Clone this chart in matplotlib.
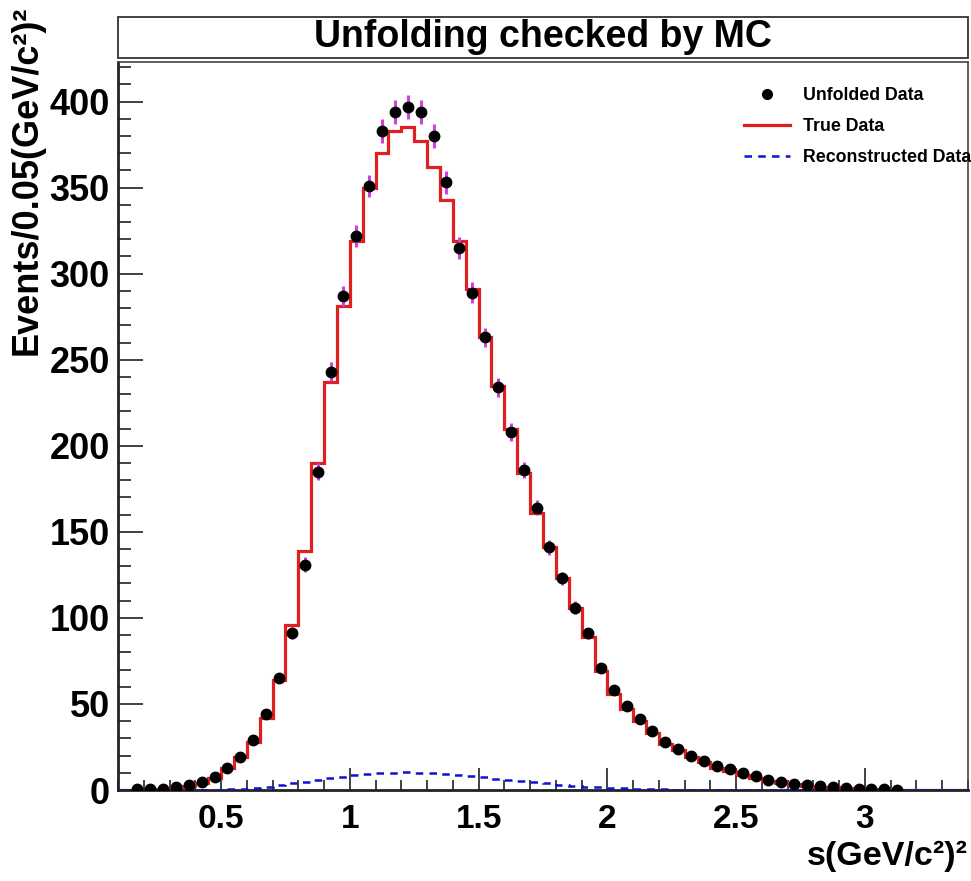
#!/usr/bin/env python3

import matplotlib

matplotlib.use("Agg")
import matplotlib.pyplot as plt
from matplotlib.lines import Line2D
from matplotlib.patches import Rectangle
from matplotlib.ticker import MultipleLocator
import numpy as np

plt.rcParams["font.family"] = ["Liberation Sans", "DejaVu Sans"]
plt.rcParams["font.weight"] = "bold"

# histogram binning: 66 bins of 0.05 from 0.1 to 3.4
BIN_LOW = 0.1
BIN_WIDTH = 0.05
N_BINS = 66

true_counts = [
    0, 0.1, 0.2, 0.5, 1, 2.3, 4, 7, 13, 19,
    28, 42, 64, 96, 139, 190, 237, 281, 319, 350,
    370, 383, 385, 377, 362, 343, 319, 291, 263, 235,
    210, 184, 161, 141, 123, 106, 89, 69, 56, 47,
    40, 33, 27, 23, 19, 16, 13, 11, 9, 7,
    5.5, 4.3, 3.3, 2.5, 2, 1.5, 1, 0.7, 0.5, 0.3,
    0.2, 0, 0, 0, 0, 0,
]

reco_counts = [
    0, 0, 0, 0, 0, 0, 0.1, 0.2, 0.4, 0.8,
    1.3, 1.8, 2.7, 3.8, 4.8, 5.9, 6.9, 7.8, 8.6, 9.2,
    9.7, 10.0, 10.2, 10.1, 9.8, 9.3, 8.7, 8.0, 7.3, 6.6,
    5.9, 5.2, 4.5, 3.8, 3.1, 2.5, 2.0, 1.6, 1.2, 0.9,
    0.7, 0.5, 0.35, 0.25, 0.15, 0.1, 0, 0, 0, 0,
    0, 0, 0, 0, 0, 0, 0, 0, 0, 0,
    0, 0, 0, 0, 0, 0,
]

# unfolded points fill bins 1..60 (0.175 .. 3.125)
unfolded = [
    0.3, 0.4, 0.8, 1.5, 2.8, 4.5, 7.5, 12.5, 19, 29,
    44, 65, 91, 131, 185, 243, 287, 322, 351, 383,
    394, 397, 394, 380, 353, 315, 289, 263, 234, 208,
    186, 164, 141, 123, 106, 91, 71, 58, 49, 41,
    34, 28, 24, 20, 17, 14, 12, 10, 8, 6,
    4.7, 3.6, 2.7, 2.1, 1.6, 1.1, 0.8, 0.5, 0.3, 0.2,
]

unfolded_err = [
    0.3, 0.3, 0.4, 0.5, 0.7, 0.9, 1.1, 1.4, 1.7, 2.1,
    2.6, 3.0, 3.5, 4.2, 5.0, 5.6, 6.0, 6.3, 6.6, 6.9,
    7.0, 7.0, 7.0, 6.8, 6.6, 6.2, 5.9, 5.6, 5.4, 5.0,
    4.8, 4.5, 4.2, 3.9, 3.6, 3.3, 3.0, 2.7, 2.4, 2.2,
    2.0, 1.8, 1.7, 1.5, 1.4, 1.3, 1.2, 1.1, 1.0, 0.9,
    0.8, 0.7, 0.6, 0.5, 0.5, 0.4, 0.3, 0.3, 0.2, 0.2,
]

X_TICKS = [0.5, 1, 1.5, 2, 2.5, 3]
Y_TICKS = [0, 50, 100, 150, 200, 250, 300, 350, 400]

W, H = 971, 881
fig = plt.figure(figsize=(W / 100, H / 100), dpi=100)
ax = fig.add_axes([118 / W, 1 - 790 / H, (968 - 118) / W, (790 - 62) / H])

edges = BIN_LOW + BIN_WIDTH * np.arange(N_BINS + 1)
centers = 0.5 * (edges[:-1] + edges[1:])
point_x = centers[1:1 + len(unfolded)]

red = "#e02020"
blue = "#1010d0"

ax.stairs(true_counts, edges, color=red, linewidth=2.3, zorder=2)
ax.stairs(reco_counts, edges, color=blue, linewidth=1.8,
          linestyle=(0, (3, 2.5)), zorder=3)
ax.errorbar(point_x, unfolded, yerr=unfolded_err, fmt="o", color="black",
            markersize=7.5, ecolor="#d43fe0", elinewidth=2.2, capsize=0,
            zorder=4)

ax.set_xlim(edges[0], edges[-1])
ax.set_ylim(0, 423)
ax.set_xticks(X_TICKS)
ax.set_xticklabels([f"{t:g}" for t in X_TICKS])
ax.set_yticks(Y_TICKS)
ax.xaxis.set_minor_locator(MultipleLocator(0.1))
ax.yaxis.set_minor_locator(MultipleLocator(10))
ax.tick_params(axis="both", which="both", direction="in", color="#333333",
               width=1.3)
ax.tick_params(axis="x", which="major", length=16, pad=10, labelsize=24)
ax.tick_params(axis="x", which="minor", length=7.5)
ax.tick_params(axis="y", which="major", length=18, pad=6, labelsize=26)
ax.tick_params(axis="y", which="minor", length=9)
for lab in ax.get_xticklabels() + ax.get_yticklabels():
    lab.set_fontweight("bold")

for side in ("left", "bottom"):
    ax.spines[side].set_linewidth(2.0)
    ax.spines[side].set_color("#222222")
for side in ("top", "right"):
    ax.spines[side].set_linewidth(1.2)
    ax.spines[side].set_color("#444444")

# title box (ROOT style)
fig.patches.append(Rectangle((118 / W, 1 - 58 / H), (968 - 118) / W, 41 / H,
                             transform=fig.transFigure, facecolor="white",
                             edgecolor="#333333", linewidth=1.3))
fig.text(543 / W, 1 - 37 / H, "Unfolding checked by MC", ha="center",
         va="center", fontsize=27, fontweight="bold")

fig.text(27 / W, 1 - 6 / H, "Events/0.05(GeV/c²)²", rotation=90,
         ha="center", va="top", fontsize=26, fontweight="bold")
fig.text(968 / W, 1 - 872 / H, "s(GeV/c²)²", ha="right", va="bottom",
         fontsize=24.5, fontweight="bold")

handles = [
    Line2D([], [], marker="o", linestyle="none", color="black", markersize=7),
    Line2D([], [], color=red, linewidth=2.3),
    Line2D([], [], color=blue, linewidth=1.8, linestyle=(0, (3, 2.5))),
]
labels = ["Unfolded Data", "True Data", "Reconstructed Data"]
leg = ax.legend(handles, labels, loc="upper left",
                bbox_to_anchor=(744 / W, 1 - 87 / H),
                bbox_transform=fig.transFigure, frameon=False, borderpad=0,
                borderaxespad=0, handlelength=2.6, handletextpad=0.7,
                labelspacing=0.78, prop={"size": 12.8, "weight": "bold"})

fig.savefig("out.png", dpi=100)
